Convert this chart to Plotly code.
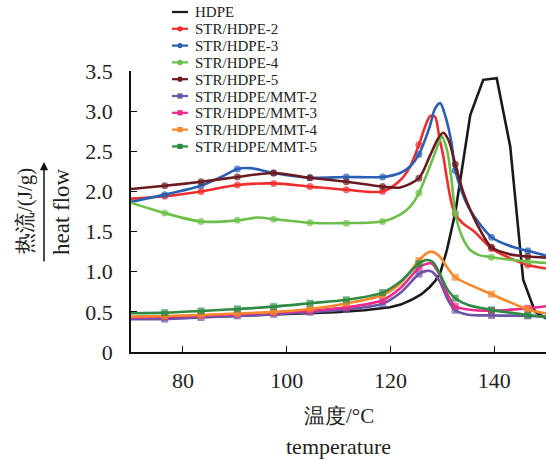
import plotly.graph_objects as go

# ---- data -----------------------------------------------------------------
series_names = [
    "HDPE", "STR/HDPE-2", "STR/HDPE-3", "STR/HDPE-4", "STR/HDPE-5",
    "STR/HDPE/MMT-2", "STR/HDPE/MMT-3", "STR/HDPE/MMT-4", "STR/HDPE/MMT-5",
]
series_colors = [
    "#1a1a1a", "#ef2d2d", "#2a5fb3", "#6cc04a", "#6b1b1f",
    "#6a55a8", "#ec2a8a", "#f5882c", "#2e8b45",
]
series_symbols = [None, "circle", "circle", "circle", "circle",
                  "square", "square", "square", "square"]

# temperatures carrying a marker symbol
marker_t = [76.5, 83.5, 90.5, 97.5, 104.5, 111.5, 118.5, 125.5, 132.5, 139.5, 146.5]

hdpe_t = [70, 90, 109.3, 115, 119.9, 122, 124.1, 126, 127.6, 128.7, 129.6, 130.9,
          132.5, 133.9, 135.4, 137.9, 140.5, 143.1, 145.6, 147.9, 150]
hdpe_v = [0.42, 0.45, 0.495, 0.52, 0.557, 0.59, 0.65, 0.72, 0.81, 0.89, 0.98, 1.27,
          1.73, 2.35, 2.95, 3.39, 3.41, 2.56, 0.90, 0.50, 0.42]

s2_t = [70, 76.5, 83.5, 90.5, 97.5, 104.5, 111.5, 118.5, 121.9, 123.8, 125.5, 126.7,
        127.7, 128.6, 129.5, 130.2, 131, 131.8, 132.5, 134, 136, 139.5, 143, 146.5, 150]
s2_v = [1.91, 1.94, 2.00, 2.08, 2.10, 2.06, 2.02, 2.00, 2.14, 2.31, 2.58, 2.81,
        2.94, 2.93, 2.65, 2.44, 2.12, 1.85, 1.72, 1.60, 1.51, 1.29, 1.17, 1.085, 1.04]

s3_t = [70, 76.5, 83.5, 88, 90.5, 93, 97.5, 104.5, 111.5, 118.5, 121.9, 123.8, 125.5,
        127.6, 128.6, 129.6, 130.5, 131.8, 132.5, 134.7, 136.6, 139.5, 143.5, 146.5, 150]
s3_v = [1.87, 1.96, 2.07, 2.20, 2.28, 2.29, 2.23, 2.17, 2.18, 2.18, 2.23, 2.31, 2.46,
        2.81, 3.03, 3.10, 2.96, 2.60, 2.26, 1.85, 1.65, 1.43, 1.31, 1.26, 1.20]

s4_t = [70, 76.5, 83.5, 90.5, 94.5, 97.5, 104.5, 111.5, 118.5, 121.9, 123.8, 125.5,
        127.6, 129.3, 129.9, 130.9, 131.8, 132.5, 133.8, 135.4, 137, 139.5, 146.5, 150]
s4_v = [1.86, 1.73, 1.625, 1.64, 1.675, 1.655, 1.61, 1.605, 1.625, 1.71, 1.81, 1.98,
        2.31, 2.60, 2.69, 2.52, 2.14, 1.73, 1.44, 1.27, 1.21, 1.18, 1.126, 1.11]

s5_t = [70, 76.5, 83.5, 90.5, 97.5, 104.5, 111.5, 118.5, 121.9, 125.5, 127.6, 129.2,
        130.2, 131.2, 132.5, 134.1, 135.4, 137.3, 139.5, 143.5, 146.5, 150]
s5_v = [2.03, 2.07, 2.12, 2.18, 2.23, 2.17, 2.12, 2.06, 2.05, 2.165, 2.44, 2.66,
        2.73, 2.64, 2.34, 1.98, 1.77, 1.52, 1.305, 1.21, 1.19, 1.175]

m2_t = [70, 76.5, 83.5, 90.5, 97.5, 104.5, 111.5, 118.5, 122, 125.5, 127, 128,
        129.5, 131, 132.5, 135, 139.5, 146.5, 150]
m2_v = [0.407, 0.41, 0.43, 0.45, 0.47, 0.495, 0.53, 0.60, 0.74, 0.97, 1.01, 1.00,
        0.88, 0.66, 0.52, 0.465, 0.455, 0.45, 0.44]

m3_t = [70, 76.5, 83.5, 90.5, 97.5, 104.5, 111.5, 118.5, 122, 125.5, 127, 128,
        129.5, 131, 132.5, 135, 139.5, 146.5, 150]
m3_v = [0.43, 0.44, 0.455, 0.47, 0.49, 0.515, 0.557, 0.645, 0.80, 1.05, 1.10, 1.10,
        0.96, 0.72, 0.57, 0.53, 0.515, 0.545, 0.57]

m4_t = [70, 76.5, 83.5, 90.5, 97.5, 104.5, 111.5, 118.5, 122, 125.5, 127, 128,
        129.5, 131, 132.5, 139.5, 146.5, 150]
m4_v = [0.44, 0.449, 0.46, 0.48, 0.50, 0.536, 0.605, 0.71, 0.86, 1.14, 1.23, 1.25,
        1.19, 1.05, 0.93, 0.72, 0.53, 0.48]

m5_t = [70, 76.5, 83.5, 90.5, 97.5, 104.5, 111.5, 118.5, 122, 125.5, 127, 128.2,
        129.5, 131, 132.5, 135, 139.5, 146.5, 150]
m5_v = [0.483, 0.49, 0.51, 0.536, 0.565, 0.607, 0.65, 0.74, 0.88, 1.10, 1.145, 1.12,
        0.98, 0.78, 0.67, 0.585, 0.525, 0.46, 0.435]

series_t = [hdpe_t, s2_t, s3_t, s4_t, s5_t, m2_t, m3_t, m4_t, m5_t]
series_v = [hdpe_v, s2_v, s3_v, s4_v, s5_v, m2_v, m3_v, m4_v, m5_v]

y_ticks = [0, 0.5, 1.0, 1.5, 2.0, 2.5, 3.0, 3.5]
y_tick_text = ["0", "0.5", "1.0", "1.5", "2.0", "2.5", "3.0", "3.5"]
x_ticks = [80, 100, 120, 140]

# ---- geometry of the canvas -----------------------------------------------
W, H = 546, 461
L, R, T, B = 131, 0, 71, 109
PW, PH = W - L - R, H - T - B
FONT = "Liberation Serif"
INK = "#222"

LEG_TOP, LEG_STEP, LEG_SIZE = 12.0, 16.8, 15


def px(xp):
    return (xp - L) / PW


def py(yp):
    return (T + PH - yp) / PH


fig = go.Figure()

for name, color, sym, ts, vs in zip(series_names, series_colors, series_symbols,
                                     series_t, series_v):
    if sym is None:
        fig.add_trace(go.Scatter(
            x=ts, y=vs, mode="lines", name=name,
            line=dict(color=color, width=2.6, shape="linear"),
        ))
    else:
        sizes = [7 if t in marker_t else 0 for t in ts]
        fig.add_trace(go.Scatter(
            x=ts, y=vs, mode="lines+markers", name=name,
            line=dict(color=color, width=2.6, shape="spline", smoothing=0.8),
            marker=dict(color=color, symbol=sym, size=sizes, line=dict(width=0)),
        ))

# ---- hand-drawn legend at the top ------------------------------------------
shapes = []
annotations = []
for i, (name, color, sym) in enumerate(zip(series_names, series_colors, series_symbols)):
    yc = LEG_TOP + LEG_STEP * i
    shapes.append(dict(type="line", xref="paper", yref="paper",
                       x0=px(172), x1=px(188), y0=py(yc), y1=py(yc),
                       line=dict(color=color, width=2.2)))
    if sym is not None:
        r = 2.6
        shapes.append(dict(type="circle" if sym == "circle" else "rect",
                           xref="paper", yref="paper",
                           x0=px(180 - r), x1=px(180 + r),
                           y0=py(yc + r), y1=py(yc - r),
                           fillcolor=color, line=dict(width=0)))
    annotations.append(dict(text=name, xref="paper", yref="paper",
                            x=px(194), y=py(yc + 0.5), xanchor="left", yanchor="middle",
                            showarrow=False, borderpad=0,
                            font=dict(family=FONT, size=LEG_SIZE, color=INK)))

# ---- axis titles -------------------------------------------------------------
annotations += [
    dict(text="温度/°C", xref="paper", yref="paper", x=0.5, y=py(416),
         xanchor="center", yanchor="middle", showarrow=False,
         font=dict(family=FONT, size=21, color=INK)),
    dict(text="temperature", xref="paper", yref="paper", x=0.5, y=py(446),
         xanchor="center", yanchor="middle", showarrow=False,
         font=dict(family=FONT, size=22, color=INK)),
    dict(text="热流/(J/g)", xref="paper", yref="paper", x=px(25), y=py(211),
         xanchor="center", yanchor="middle", showarrow=False, textangle=-90,
         font=dict(family=FONT, size=21, color=INK)),
    dict(text="heat flow", xref="paper", yref="paper", x=px(61), y=py(212),
         xanchor="center", yanchor="middle", showarrow=False, textangle=-90,
         font=dict(family=FONT, size=23, color=INK)),
    dict(text="", xref="paper", yref="paper", x=px(44), y=py(162),
         ax=0, ay=101, showarrow=True, arrowhead=2, arrowsize=1.1,
         arrowwidth=1.5, arrowcolor="#111"),
]

fig.update_layout(
    width=W, height=H,
    margin=dict(l=L, r=R, t=T, b=B),
    paper_bgcolor="white", plot_bgcolor="white",
    showlegend=False,
    shapes=shapes, annotations=annotations,
    font=dict(family=FONT, size=21, color=INK),
)
fig.update_xaxes(
    range=[70, 150], tickvals=x_ticks, ticks="inside", ticklen=6, tickwidth=1.3,
    tickcolor="#111", showline=True, linecolor="#111", linewidth=1.5,
    showgrid=False, zeroline=False, ticklabelstandoff=8,
    tickfont=dict(family=FONT, size=22, color=INK),
)
fig.update_yaxes(
    range=[0, 3.5], tickvals=y_ticks, ticktext=y_tick_text, ticks="inside",
    ticklen=6, tickwidth=1.3, tickcolor="#111", showline=True, linecolor="#111",
    linewidth=1.5, showgrid=False, zeroline=False, ticklabelstandoff=12,
    tickfont=dict(family=FONT, size=22, color=INK),
)

fig.write_html("out.html")
